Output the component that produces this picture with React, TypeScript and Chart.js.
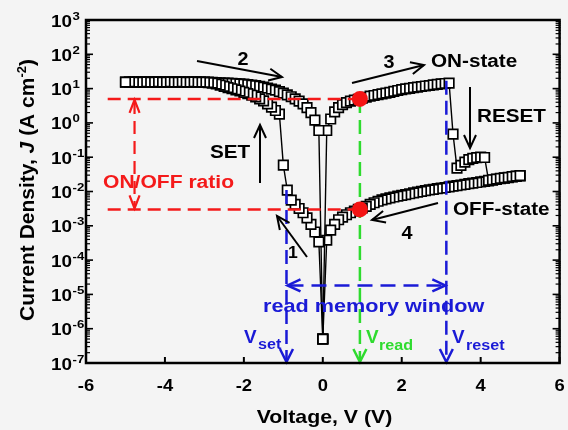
import React, { useEffect, useRef } from "react";
import { Chart, registerables } from "chart.js";

Chart.register(...registerables);

// ---------------- data ----------------
// Sweep 1: 0 V -> -5 V (OFF state, SET near -1.1 V, then ON state)
const sweep1V = [0, -0.1, -0.2, -0.3, -0.4, -0.5, -0.6, -0.7, -0.8, -0.9, -1.0, -1.1, -1.2, -1.3, -1.4, -1.5, -1.6, -1.7, -1.8, -1.9, -2.0, -2.1, -2.2, -2.3, -2.4, -2.5, -2.6, -2.7, -2.8, -2.9, -3.0, -3.1, -3.2, -3.3, -3.4, -3.5, -3.6, -3.7, -3.8, -3.9, -4.0, -4.1, -4.2, -4.3, -4.4, -4.5, -4.6, -4.7, -4.8, -4.9, -5.0];
const sweep1J = [5e-7, 3.4e-4, 6.6e-4, 1.1e-3, 1.7e-3, 2.4e-3, 3.2e-3, 4.2e-3, 5.6e-3, 1.1e-2, 5.9e-2, 1.8, 2.3, 2.9, 3.6, 4.4, 5.0, 5.7, 6.4, 7.1, 7.8, 8.5, 9.2, 9.9, 10.7, 11.6, 12.6, 13.6, 14.4, 15.0, 15.3, 15.4, 15.5, 15.5, 15.6, 15.5, 15.5, 15.6, 15.5, 15.5, 15.6, 15.5, 15.5, 15.6, 15.5, 15.5, 15.6, 15.5, 15.5, 15.6, 15.5];

// Sweep 2: -5 V -> 0 V (ON state)
const sweep2V = [-5.0, -4.9, -4.8, -4.7, -4.6, -4.5, -4.4, -4.3, -4.2, -4.1, -4.0, -3.9, -3.8, -3.7, -3.6, -3.5, -3.4, -3.3, -3.2, -3.1, -3.0, -2.9, -2.8, -2.7, -2.6, -2.5, -2.4, -2.3, -2.2, -2.1, -2.0, -1.9, -1.8, -1.7, -1.6, -1.5, -1.4, -1.3, -1.2, -1.1, -1.0, -0.9, -0.8, -0.7, -0.6, -0.5, -0.4, -0.3, -0.2, -0.1, 0];
const sweep2J = [15.5, 15.6, 15.5, 15.5, 15.6, 15.5, 15.5, 15.6, 15.5, 15.5, 15.6, 15.5, 15.5, 15.6, 15.5, 15.5, 15.6, 15.5, 15.5, 15.5, 15.5, 15.4, 15.3, 15.0, 14.8, 14.6, 14.4, 14.2, 14.0, 13.8, 13.5, 13.1, 12.7, 12.2, 11.7, 11.1, 10.4, 9.7, 9.0, 8.2, 7.4, 6.6, 5.8, 5.0, 4.3, 3.6, 2.8, 2.0, 1.2, 0.6, 5e-7];

// Sweep 3: 0 V -> 5 V (ON state, RESET near 3.2 V, then OFF state)
const sweep3V = [0, 0.1, 0.2, 0.3, 0.4, 0.5, 0.6, 0.7, 0.8, 0.9, 1.0, 1.1, 1.2, 1.3, 1.4, 1.5, 1.6, 1.7, 1.8, 1.9, 2.0, 2.1, 2.2, 2.3, 2.4, 2.5, 2.6, 2.7, 2.8, 2.9, 3.0, 3.1, 3.2, 3.3, 3.4, 3.5, 3.6, 3.7, 3.8, 3.9, 4.0, 4.1, 4.2, 4.3, 4.4, 4.5, 4.6, 4.7, 4.8, 4.9, 5.0];
const sweep3J = [5e-7, 0.6, 1.3, 2.1, 2.8, 3.4, 3.9, 4.3, 4.6, 4.9, 5.3, 5.6, 6.0, 6.3, 6.7, 7.0, 7.4, 7.8, 8.3, 8.8, 9.3, 9.8, 10.2, 10.7, 11.1, 11.5, 11.9, 12.3, 12.8, 13.3, 13.7, 14.1, 14.5, 0.47, 0.048, 0.058, 0.072, 0.085, 0.092, 0.097, 0.1, 0.098, 0.021, 0.022, 0.023, 0.024, 0.025, 0.026, 0.027, 0.028, 0.029];

// Sweep 4: 5 V -> 0 V (OFF state)
const sweep4V = [5.0, 4.9, 4.8, 4.7, 4.6, 4.5, 4.4, 4.3, 4.2, 4.1, 4.0, 3.9, 3.8, 3.7, 3.6, 3.5, 3.4, 3.3, 3.2, 3.1, 3.0, 2.9, 2.8, 2.7, 2.6, 2.5, 2.4, 2.3, 2.2, 2.1, 2.0, 1.9, 1.8, 1.7, 1.6, 1.5, 1.4, 1.3, 1.2, 1.1, 1.0, 0.9, 0.8, 0.7, 0.6, 0.5, 0.4, 0.3, 0.2, 0.1, 0];
const sweep4J = [0.0285, 0.0275, 0.0265, 0.0255, 0.0245, 0.0235, 0.0225, 0.0215, 0.0205, 0.0197, 0.019, 0.0183, 0.0176, 0.0169, 0.0162, 0.0155, 0.0149, 0.0143, 0.0137, 0.0131, 0.0126, 0.0121, 0.0116, 0.0111, 0.0106, 0.0101, 0.0096, 0.0091, 0.0086, 0.0081, 0.0077, 0.0073, 0.0069, 0.0065, 0.0061, 0.0057, 0.0052, 0.0047, 0.0042, 0.0037, 0.0033, 0.003, 0.0027, 0.0024, 0.0021, 0.0018, 0.0015, 0.0011, 7.5e-4, 3.8e-4, 5e-7];

// read points (red dots)
const readDotV = [0.94, 0.94];
const readDotJ = [5.0, 3.0e-3];

// characteristic voltages / levels
const vSet = -0.92;
const vRead = 0.94;
const vReset = 3.13;
const jOn = 5.0;
const jOff = 3.0e-3;

// ticks
const xTickValues = [-6, -4, -2, 0, 2, 4, 6];
const xTickLabels = ["-6", "-4", "-2", "0", "2", "4", "6"];
const yTickValues = [1e3, 1e2, 1e1, 1e0, 1e-1, 1e-2, 1e-3, 1e-4, 1e-5, 1e-6, 1e-7];
const yTickExponents = ["3", "2", "1", "0", "-1", "-2", "-3", "-4", "-5", "-6", "-7"];

const xTitle = "Voltage, V (V)";

// ---------------- drawing helpers ----------------
const FONT = '"Liberation Sans", Arial, Helvetica, sans-serif';
const RED = "#f41a1a";
const GREEN = "#2edb2e";
const BLUE = "#1a1ad6";
const BLACK = "#000000";

type TOpts = { sx?: number; align?: CanvasTextAlign; italic?: boolean };

function txt(ctx: CanvasRenderingContext2D, s: string, x: number, y: number, size: number, color: string, o: TOpts = {}) {
  const sx = o.sx ?? 1;
  ctx.save();
  ctx.font = `${o.italic ? "italic " : ""}bold ${size}px ${FONT}`;
  ctx.fillStyle = color;
  ctx.textAlign = o.align ?? "left";
  ctx.textBaseline = "alphabetic";
  ctx.translate(x, y);
  ctx.scale(sx, 1);
  ctx.fillText(s, 0, 0);
  ctx.restore();
}

function textWidth(ctx: CanvasRenderingContext2D, s: string, size: number, sx = 1, italic = false) {
  ctx.save();
  ctx.font = `${italic ? "italic " : ""}bold ${size}px ${FONT}`;
  const w = ctx.measureText(s).width * sx;
  ctx.restore();
  return w;
}

function seg(ctx: CanvasRenderingContext2D, x1: number, y1: number, x2: number, y2: number, color: string, width: number, dash: number[] = []) {
  ctx.save();
  ctx.strokeStyle = color;
  ctx.lineWidth = width;
  ctx.setLineDash(dash);
  ctx.lineCap = "butt";
  ctx.beginPath();
  ctx.moveTo(x1, y1);
  ctx.lineTo(x2, y2);
  ctx.stroke();
  ctx.restore();
}

function head(ctx: CanvasRenderingContext2D, tx: number, ty: number, fx: number, fy: number, len: number, half: number, color: string, width: number) {
  const a = Math.atan2(ty - fy, tx - fx);
  const bx = tx - len * Math.cos(a);
  const by = ty - len * Math.sin(a);
  const nx = -Math.sin(a) * half;
  const ny = Math.cos(a) * half;
  ctx.save();
  ctx.strokeStyle = color;
  ctx.lineWidth = width;
  ctx.setLineDash([]);
  ctx.lineJoin = "miter";
  ctx.beginPath();
  ctx.moveTo(bx + nx, by + ny);
  ctx.lineTo(tx, ty);
  ctx.lineTo(bx - nx, by - ny);
  ctx.stroke();
  ctx.restore();
}

function arrow(ctx: CanvasRenderingContext2D, x1: number, y1: number, x2: number, y2: number) {
  seg(ctx, x1, y1, x2, y2, BLACK, 2);
  head(ctx, x2, y2, x1, y1, 13, 6, BLACK, 2);
}

function drawAnnotations(chart: any) {
  const { ctx, chartArea: ca } = chart;
  const xs = chart.scales.x;
  const ys = chart.scales.y;
  const px = (v: number) => xs.getPixelForValue(v);
  const py = (j: number) => ys.getPixelForValue(j);

  // red ON / OFF levels
  const xl = px(-5.45);
  const xr = px(vRead);
  seg(ctx, xl, py(jOn), xr, py(jOn), RED, 2.5, [13, 7]);
  seg(ctx, xl, py(jOff), xr, py(jOff), RED, 2.5, [13, 7]);
  // ON/OFF ratio double arrow
  const xa = px(-4.77);
  seg(ctx, xa, py(jOn) + 2, xa, py(jOff) - 2, RED, 2.2, [13, 7]);
  head(ctx, xa, py(jOn) + 1, xa, py(jOn) + 30, 13, 5, RED, 2.2);
  head(ctx, xa, py(jOff) - 1, xa, py(jOff) - 30, 13, 5, RED, 2.2);

  // V_read (green)
  const xg = px(vRead);
  seg(ctx, xg, py(jOn), xg, ca.bottom - 2, GREEN, 2.5, [14, 7]);
  head(ctx, xg, ca.bottom - 1, xg, ca.bottom - 40, 13, 6.5, GREEN, 2.5);

  // V_set / V_reset (blue)
  const xb1 = px(vSet);
  const xb2 = px(vReset);
  seg(ctx, xb1, py(1.1e-2), xb1, ca.bottom - 2, BLUE, 2.5, [14, 6]);
  head(ctx, xb1, ca.bottom - 1, xb1, ca.bottom - 40, 13, 6.5, BLUE, 2.5);
  seg(ctx, xb2, py(17), xb2, ca.bottom - 2, BLUE, 2.5, [14, 6]);
  head(ctx, xb2, ca.bottom - 1, xb2, ca.bottom - 40, 13, 6.5, BLUE, 2.5);
  // read memory window double arrow
  const yw = py(1.83e-5);
  seg(ctx, xb1 + 2, yw, xb2 - 2, yw, BLUE, 2.5, [15, 8]);
  head(ctx, xb1 + 1, yw, xb1 + 40, yw, 13, 6, BLUE, 2.5);
  head(ctx, xb2 - 1, yw, xb2 - 40, yw, 13, 6, BLUE, 2.5);

  // black sweep arrows
  arrow(ctx, 197, 61, 282, 77); // 2
  arrow(ctx, 352, 83, 424, 65); // 3
  arrow(ctx, 470, 87, 470, 148); // RESET
  arrow(ctx, 260, 183, 260, 125); // SET
  arrow(ctx, 438, 203, 372, 220); // 4
  arrow(ctx, 307, 257, 277, 216); // 1

  // texts
  txt(ctx, "2", 243, 65, 18, BLACK, { align: "center", sx: 1.1 });
  txt(ctx, "3", 389, 68, 18, BLACK, { align: "center", sx: 1.1 });
  txt(ctx, "4", 407, 239, 18, BLACK, { align: "center", sx: 1.1 });
  txt(ctx, "1", 293, 258, 16, BLACK, { align: "center", sx: 1.1 });
  txt(ctx, "ON-state", 431, 66.5, 18, BLACK, { sx: 1.15 });
  txt(ctx, "RESET", 477, 121.5, 18, BLACK, { sx: 1.15 });
  txt(ctx, "SET", 210, 158, 18, BLACK, { sx: 1.15 });
  txt(ctx, "OFF-state", 453, 215, 18, BLACK, { sx: 1.15 });
  txt(ctx, "ON/OFF ratio", 103, 188, 18, RED, { sx: 1.17 });
  txt(ctx, "read memory window", 263, 312, 18.5, BLUE, { sx: 1.17 });

  txt(ctx, "V", 244, 343, 18, BLUE, { sx: 1.05 });
  txt(ctx, "set", 258, 349, 14, BLUE, { sx: 1.15 });
  txt(ctx, "V", 366, 343, 18, GREEN, { sx: 1.05 });
  txt(ctx, "read", 379, 350, 14, GREEN, { sx: 1.15 });
  txt(ctx, "V", 452, 343, 18, BLUE, { sx: 1.05 });
  txt(ctx, "reset", 466, 350, 14, BLUE, { sx: 1.15 });
}

function drawAxes(chart: any) {
  const { ctx, chartArea: ca } = chart;
  const xs = chart.scales.x;
  const ys = chart.scales.y;

  // frame
  ctx.save();
  ctx.strokeStyle = BLACK;
  ctx.lineWidth = 2.5;
  ctx.setLineDash([]);
  ctx.strokeRect(ca.left, ca.top, ca.right - ca.left, ca.bottom - ca.top);
  ctx.restore();

  // y ticks (left & right, inward), decades + minor
  yTickValues.forEach((d) => {
    const yy = ys.getPixelForValue(d);
    seg(ctx, ca.left, yy, ca.left + 7, yy, BLACK, 1.6);
    seg(ctx, ca.right, yy, ca.right - 7, yy, BLACK, 1.6);
    if (d < 1e3) {
      for (let m = 2; m <= 9; m++) {
        const ym = ys.getPixelForValue(d * m);
        seg(ctx, ca.left - 1, ym, ca.left + 4, ym, BLACK, 1.2);
        seg(ctx, ca.right + 1, ym, ca.right - 4, ym, BLACK, 1.2);
      }
    }
  });
  // x ticks (bottom, inward)
  xTickValues.forEach((v) => {
    const xx = xs.getPixelForValue(v);
    seg(ctx, xx, ca.bottom, xx, ca.bottom - 6, BLACK, 2);
  });

  // x tick labels
  xTickValues.forEach((v, i) => {
    const xx = xs.getPixelForValue(v);
    txt(ctx, xTickLabels[i], xx, 391, 16, BLACK, { align: "center", sx: 1.15 });
  });
  // y tick labels: 10^n
  yTickValues.forEach((d, i) => {
    const yy = ys.getPixelForValue(d);
    const baseX = 51;
    txt(ctx, "10", baseX, yy + 6.5, 16, BLACK, { sx: 1.18 });
    const w = textWidth(ctx, "10", 16, 1.18);
    txt(ctx, yTickExponents[i], baseX + w + 0.5, yy - 0.5, 11.5, BLACK, { sx: 1.15 });
  });

  // x title
  txt(ctx, xTitle, 324.5, 423, 19, BLACK, { align: "center", sx: 1.12 });

  // y title: Current Density, J (A cm^-2)
  const size = 21;
  const parts: { s: string; italic?: boolean; sup?: boolean }[] = [
    { s: "Current Density, " },
    { s: "J", italic: true },
    { s: " (A cm" },
    { s: "-2", sup: true },
    { s: ")" },
  ];
  const widths = parts.map((p) => textWidth(ctx, p.s, p.sup ? 13 : size, 1, !!p.italic));
  const total = widths.reduce((a, b) => a + b, 0);
  ctx.save();
  ctx.translate(33.5, 190);
  ctx.rotate(-Math.PI / 2);
  let cx = -total / 2;
  parts.forEach((p, i) => {
    txt(ctx, p.s, cx, p.sup ? -8 : 0, p.sup ? 13 : size, BLACK, { italic: !!p.italic });
    cx += widths[i];
  });
  ctx.restore();
}

const figurePlugin = {
  id: "figure",
  beforeDraw(chart: any) {
    const { ctx, width, height } = chart;
    ctx.save();
    ctx.fillStyle = "#f4f4f4";
    ctx.fillRect(0, 0, width, height);
    ctx.restore();
  },
  afterDatasetDraw(chart: any, args: any) {
    if (args.index === 1) drawAnnotations(chart);
  },
  afterDraw(chart: any) {
    drawAxes(chart);
  },
};

const pts = (vs: number[], js: number[]) => vs.map((v, i) => ({ x: v, y: js[i] }));

const sweepStyle = {
  showLine: true,
  borderColor: BLACK,
  borderWidth: 1.4,
  pointStyle: "rect",
  pointRadius: 6.7,
  pointBackgroundColor: "#ffffff",
  pointBorderColor: BLACK,
  pointBorderWidth: 1.7,
  tension: 0,
};

export default function App() {
  const ref = useRef<HTMLCanvasElement | null>(null);

  useEffect(() => {
    if (!ref.current) return;
    const chart = new Chart(ref.current, {
      type: "scatter",
      data: {
        datasets: [
          {
            label: "read",
            data: pts(readDotV, readDotJ),
            showLine: false,
            pointStyle: "circle",
            pointRadius: 8,
            pointBackgroundColor: "#f41414",
            pointBorderWidth: 0,
            pointBorderColor: "#f41414",
          } as any,
          { label: "sweep 1", data: pts(sweep1V, sweep1J), ...sweepStyle } as any,
          { label: "sweep 2", data: pts(sweep2V, sweep2J), ...sweepStyle } as any,
          { label: "sweep 3", data: pts(sweep3V, sweep3J), ...sweepStyle } as any,
          { label: "sweep 4", data: pts(sweep4V, sweep4J), ...sweepStyle } as any,
        ],
      },
      options: {
        animation: false,
        responsive: false,
        maintainAspectRatio: false,
        layout: { padding: { left: 86, top: 20, right: 5, bottom: 67 } },
        scales: {
          x: { type: "linear", min: -6, max: 6, display: false },
          y: { type: "logarithmic", min: 1e-7, max: 1e3, display: false },
        },
        plugins: {
          legend: { display: false },
          tooltip: { enabled: false },
        },
      },
      plugins: [figurePlugin],
    });
    return () => chart.destroy();
  }, []);

  return (
    <div style={{ position: "absolute", left: 0, top: 0, width: 568, height: 430 }}>
      <canvas ref={ref} width={568} height={430} style={{ display: "block" }} />
    </div>
  );
}
